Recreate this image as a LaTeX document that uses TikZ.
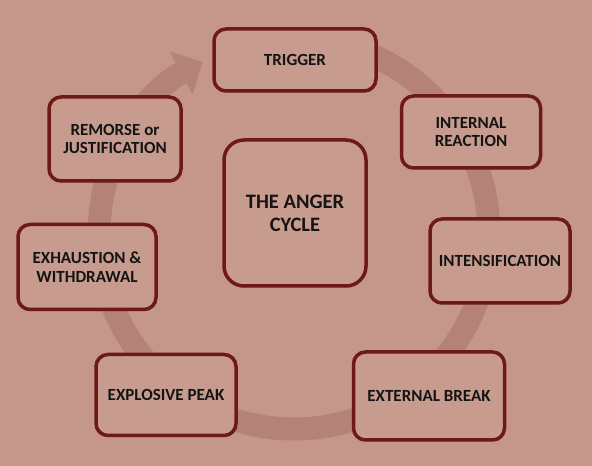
\documentclass[tikz,border=0pt]{standalone}
\usepackage{fontspec}
\setmainfont{Carlito}
\usepackage{tikz}
\usetikzlibrary{arrows.meta,shadows}
\definecolor{bgcol}{RGB}{197,151,139}
\definecolor{ringcol}{RGB}{181,130,120}
\definecolor{boxcol}{RGB}{200,155,143}
\definecolor{edgecol}{RGB}{110,26,20}
\definecolor{txtcol}{RGB}{20,20,20}

\begin{document}
\begin{tikzpicture}[x=1pt,y=1pt,
  box/.style={draw=edgecol,fill=boxcol,line width=3.5pt,rounded corners=12pt,
    align=center,text=txtcol,font=\fontsize{17}{18.5}\selectfont\bfseries,
    drop shadow={opacity=0.35,shadow xshift=1pt,shadow yshift=-2pt}},
  ring/.style={ringcol,line width=23pt,-{Triangle[width=48pt,length=24pt]}}]
% background and frame
\fill[bgcol] (0,0) rectangle (592,466);
\useasboundingbox (0,0) rectangle (592,466);
% the cycle ring
\coordinate (hub) at (294,232);
\draw[ring] ([shift={(90:195pt)}]hub) arc[start angle=90,end angle=-242,radius=195pt];
% stages
\node[box,minimum width=162pt,minimum height=62pt] (trigger) at (295,406) {TRIGGER};
\node[box,minimum width=139pt,minimum height=72pt] (internal) at (471,334) {INTERNAL\\REACTION};
\node[box,minimum width=140pt,minimum height=84pt] (intens) at (500,205) {INTENSIFICATION};
\node[box,minimum width=151pt,minimum height=88pt] (external) at (429,70) {EXTERNAL BREAK};
\node[box,minimum width=140pt,minimum height=81pt] (peak) at (166,71) {EXPLOSIVE PEAK};
\node[box,minimum width=138pt,minimum height=85pt] (exhaust) at (87,199) {EXHAUSTION \&\\WITHDRAWAL};
\node[box,minimum width=132pt,minimum height=84pt] (remorse) at (115,327) {REMORSE or\\JUSTIFICATION};
\node[box,rounded corners=20pt,minimum width=142pt,minimum height=146pt,
  font=\fontsize{20.5}{23}\selectfont\bfseries] (cycle) at (295,253) {THE ANGER\\CYCLE};
\end{tikzpicture}
\end{document}
